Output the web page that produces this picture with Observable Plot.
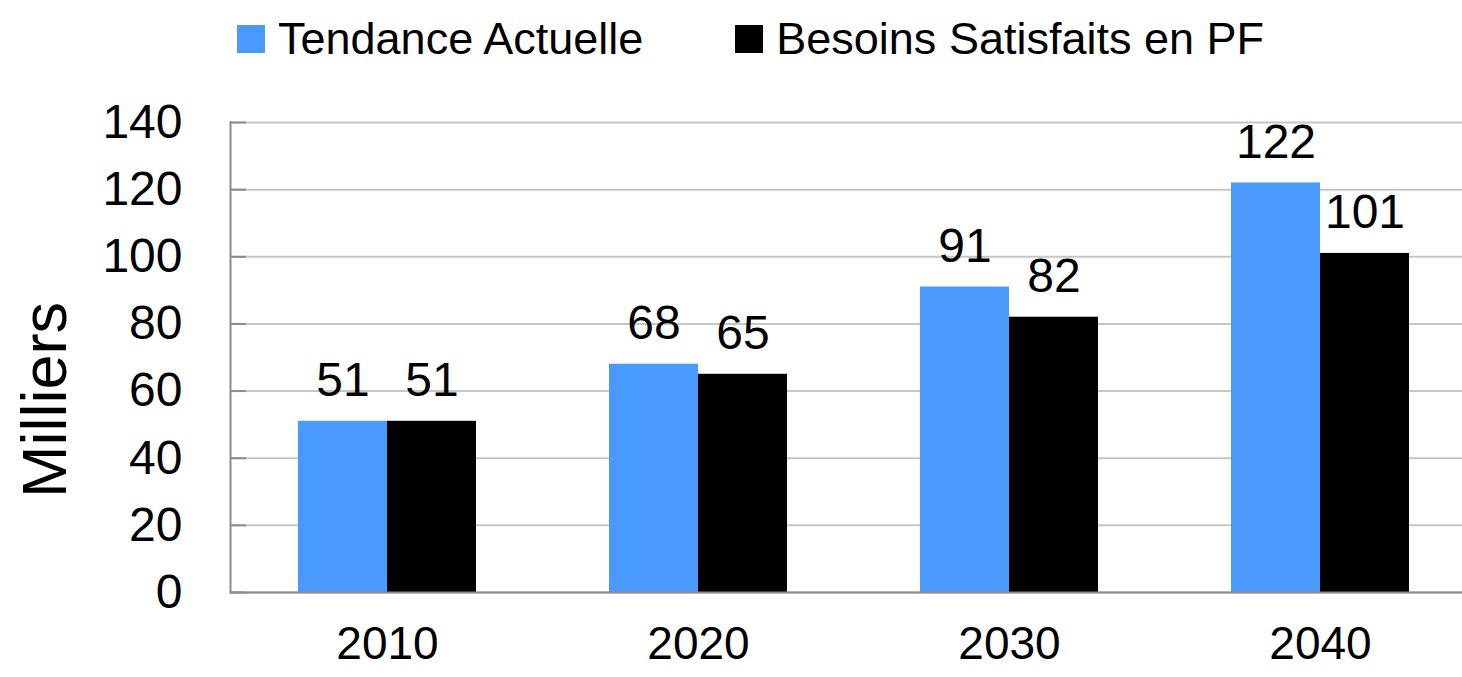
<!DOCTYPE html>
<html><head><meta charset="utf-8">
<script src="https://cdn.jsdelivr.net/npm/d3@7"></script>
<script src="https://cdn.jsdelivr.net/npm/@observablehq/plot@0.6"></script>
<style>
html,body{margin:0;padding:0;background:#fff;overflow:hidden;}
#wrap{position:relative;width:1462px;height:677px;overflow:hidden;font-family:"Liberation Sans",Arial,sans-serif;color:#000;}
#legend{position:absolute;left:237px;top:0;height:78px;display:flex;align-items:center;font-size:45px;white-space:nowrap;}
.item{display:flex;align-items:center;}
.sw{width:28px;height:28px;margin-right:13px;}
#ylabel{position:absolute;left:44px;top:400px;transform:translate(-50%,-50%) rotate(-90deg);font-size:63px;white-space:nowrap;}
#chart{position:absolute;left:0;top:75px;}
</style></head>
<body>
<div id="wrap">
  <div id="legend"></div>
  <div id="ylabel"></div>
  <div id="chart"></div>
</div>
<script>
const years = ["2010", "2020", "2030", "2040"];
const tendance = [51, 68, 91, 122];
const besoins = [51, 65, 82, 101];
const yTicks = [0, 20, 40, 60, 80, 100, 120, 140];
const seriesNames = ["Tendance Actuelle", "Besoins Satisfaits en PF"];
const seriesColors = ["#4a9afb", "#000000"];
const yLabel = "Milliers";

// legend
const legend = document.getElementById("legend");
seriesNames.forEach((name, i) => {
  const it = document.createElement("div");
  it.className = "item";
  if (i > 0) it.style.marginLeft = "92px";
  const sw = document.createElement("div");
  sw.className = "sw";
  sw.style.background = seriesColors[i];
  const tx = document.createElement("span");
  tx.textContent = name;
  it.appendChild(sw); it.appendChild(tx);
  legend.appendChild(it);
});
document.getElementById("ylabel").textContent = yLabel;

const W = 1477, H = 602, ML = 230, MR = 0, MT = 47, MB = 85;
const PI = 0.428, PO = 0.2175;
const step = (W - ML - MR) / (years.length - PI + 2 * PO);
const half = step * (1 - PI) / 2;

const rowsT = years.map((y, i) => ({year: y, value: tendance[i]}));
const rowsB = years.map((y, i) => ({year: y, value: besoins[i]}));

const chart = Plot.plot({
  width: W, height: H,
  marginLeft: ML, marginRight: MR, marginTop: MT, marginBottom: MB,
  style: {fontFamily: '"Liberation Sans", Arial, sans-serif', maxWidth: "none", background: "transparent", color: "#000"},
  x: {type: "band", domain: years, paddingInner: PI, paddingOuter: PO, align: 0.5},
  y: {domain: [0, 140]},
  marks: [
    Plot.gridY(yTicks, {stroke: "#c6c6c6", strokeOpacity: 1, strokeWidth: 2}),
    Plot.ruleY(yTicks, {insetRight: W - ML - MR - 16, stroke: "#8c8c8c", strokeWidth: 2}),
    Plot.barY(rowsT, {x: "year", y: "value", fill: seriesColors[0], insetRight: half}),
    Plot.barY(rowsB, {x: "year", y: "value", fill: seriesColors[1], insetLeft: half}),
    Plot.ruleY([0], {stroke: "#8c8c8c", strokeWidth: 2}),
    Plot.frame({anchor: "left", stroke: "#8c8c8c", strokeWidth: 2}),
    Plot.text(rowsT, {x: "year", y: "value", text: d => String(d.value), dx: -half / 2, dy: -25, lineAnchor: "bottom", fontSize: 48, fill: "#000"}),
    Plot.text(rowsB, {x: "year", y: "value", text: d => String(d.value), dx: half / 2, dy: -25, lineAnchor: "bottom", fontSize: 48, fill: "#000"}),
    Plot.axisY(yTicks, {tickSize: 0, tickPadding: 48, fontSize: 48, label: null, fill: "#000"}),
    Plot.axisX({tickSize: 0, tickPadding: 34, fontSize: 46, label: null, fill: "#000"})
  ]
});
document.getElementById("chart").appendChild(chart);
</script>
</body></html>
